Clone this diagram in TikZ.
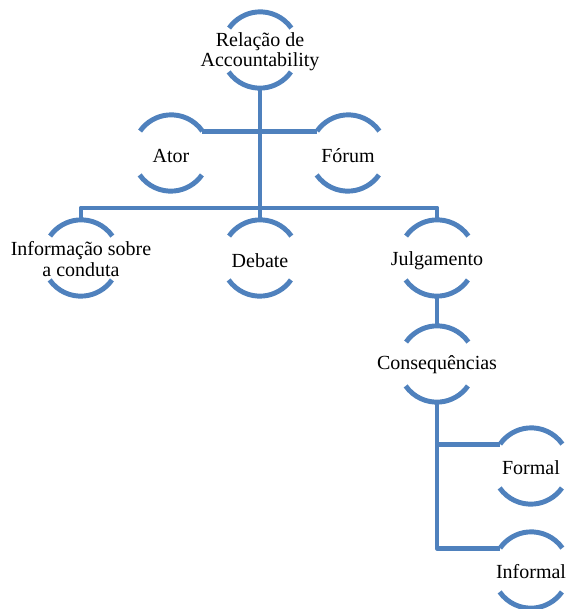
\documentclass[tikz,border=0pt]{standalone}
\usepackage{fontspec}
\setmainfont{Liberation Serif}
\definecolor{linkblue}{RGB}{79,129,189}
\begin{document}
\begin{tikzpicture}[x=0.75pt,y=-0.75pt,
  ring/.style={circle, minimum size=57pt, inner sep=0pt},
  label/.style={align=center, font=\fontsize{15}{15.2}\selectfont, inner sep=0pt},
  arcline/.style={draw=linkblue, line width=3.7pt},
  conn/.style={draw=linkblue, line width=3.7pt, line join=round}]
\useasboundingbox (0,0) rectangle (566,609);
% circle placeholders
\node[ring] (relc) at (260,50) {};
\node[ring] (atorc) at (171,153) {};
\node[ring] (forumc) at (348,153) {};
\node[ring] (infoc) at (81,258) {};
\node[ring] (debc) at (260,258) {};
\node[ring] (julc) at (437,258) {};
\node[ring] (consc) at (437,364) {};
\node[ring] (formc) at (531,466) {};
\node[ring] (infc) at (531,570) {};
% texts
\node[label] (rel) at (260,52) {Relação de\\Accountability};
\node[label] (ator) at (171,156) {Ator};
\node[label] (forum) at (348,156) {Fórum};
\node[label] (info) at (81,259) {Informação sobre\\a conduta};
\node[label] (deb) at (260,261) {Debate};
\node[label] (jul) at (437,261) {Julgamento};
\node[label] (cons) at (437,365) {Consequências};
\node[label] (form) at (531,468) {Formal};
\node[label] (inf) at (531,572) {Informal};
% arcs
\foreach \n in {relc,atorc,forumc,infoc,debc,julc,consc,formc,infc}{
  \draw[arcline] (\n.35) arc (35:145:28.5pt);
  \draw[arcline] (\n.215) arc (215:325:28.5pt);
}
% connectors
\coordinate (bar) at (260,208);
\draw[conn] (relc.south) -- (debc.north);
\draw[conn] (atorc.35) -- (forumc.145);
\draw[conn] (infoc.north) |- (bar) -| (julc.north);
\draw[conn] (julc.south) -- (consc.north);
\draw[conn] (consc.south) |- (formc.145);
\draw[conn] (consc.south) |- (infc.145);
\end{tikzpicture}
\end{document}
